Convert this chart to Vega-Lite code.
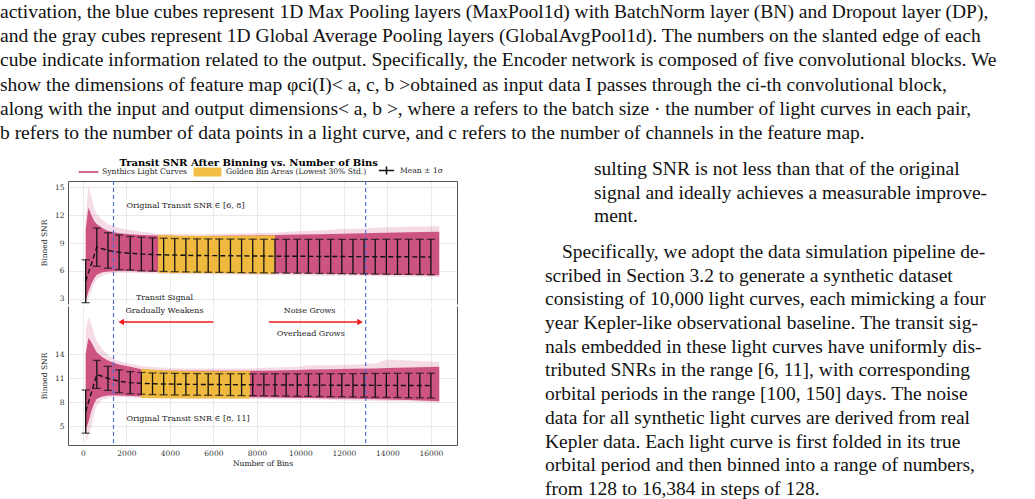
{
  "$schema": "https://vega.github.io/schema/vega-lite/v6.json",
  "padding": 0,
  "background": "white",
  "config": {
    "view": {"stroke": null},
    "font": "DejaVu Serif",
    "axis": {
      "labelFont": "DejaVu Serif", "labelFontSize": 7.5, "labelColor": "#333",
      "titleFont": "DejaVu Serif", "titleFontSize": 7.5, "titleFontWeight": "normal", "titleColor": "#222",
      "gridColor": "#e4e4e4", "gridWidth": 0.8, "domainColor": "#555", "domainWidth": 1,
      "ticks": false, "labelPadding": 4
    },
    "legend": {
      "labelFont": "DejaVu Serif", "labelFontSize": 7.6, "labelColor": "#222",
      "orient": "top", "direction": "horizontal", "padding": 0, "offset": 3,
      "layout": {"top": {"anchor": "middle", "direction": "horizontal", "margin": 14, "center": true}}
    }
  },
  "datasets": {
    "band_top": [
      {"bins": 128, "lo": 2.8, "hi": 10.5, "flo": 2.46, "fhi": 11.9},
      {"bins": 256, "lo": 3.8, "hi": 12.8, "flo": 3.0, "fhi": 15.1},
      {"bins": 384, "lo": 4.6, "hi": 12.0, "flo": 3.8, "fhi": 14.0},
      {"bins": 512, "lo": 5.2, "hi": 11.4, "flo": 4.6, "fhi": 12.8},
      {"bins": 640, "lo": 5.6, "hi": 11.0, "flo": 5.1, "fhi": 12.1},
      {"bins": 896, "lo": 5.85, "hi": 10.6, "flo": 5.5, "fhi": 11.5},
      {"bins": 1152, "lo": 5.95, "hi": 10.3, "flo": 5.7, "fhi": 11.0},
      {"bins": 1664, "lo": 6.0, "hi": 10.05, "flo": 5.8, "fhi": 10.6},
      {"bins": 2176, "lo": 6.0, "hi": 9.95, "flo": 5.8, "fhi": 10.4},
      {"bins": 2688, "lo": 5.95, "hi": 9.85, "flo": 5.75, "fhi": 10.2},
      {"bins": 3456, "lo": 5.9, "hi": 9.8, "flo": 5.7, "fhi": 10.0},
      {"bins": 4480, "lo": 5.85, "hi": 9.75, "flo": 5.65, "fhi": 9.95},
      {"bins": 5504, "lo": 5.85, "hi": 9.75, "flo": 5.65, "fhi": 9.95},
      {"bins": 6528, "lo": 5.82, "hi": 9.78, "flo": 5.62, "fhi": 10.0},
      {"bins": 7552, "lo": 5.8, "hi": 9.8, "flo": 5.6, "fhi": 10.05},
      {"bins": 8832, "lo": 5.78, "hi": 9.85, "flo": 5.58, "fhi": 10.1},
      {"bins": 9856, "lo": 5.75, "hi": 9.9, "flo": 5.55, "fhi": 10.25},
      {"bins": 10880, "lo": 5.7, "hi": 9.95, "flo": 5.5, "fhi": 10.35},
      {"bins": 11904, "lo": 5.68, "hi": 10.0, "flo": 5.48, "fhi": 10.5},
      {"bins": 12928, "lo": 5.65, "hi": 10.05, "flo": 5.45, "fhi": 10.55},
      {"bins": 13952, "lo": 5.6, "hi": 10.1, "flo": 5.4, "fhi": 10.7},
      {"bins": 14976, "lo": 5.58, "hi": 10.15, "flo": 5.38, "fhi": 10.75},
      {"bins": 16384, "lo": 5.55, "hi": 10.2, "flo": 5.35, "fhi": 10.8}
    ],
    "band_bot": [
      {"bins": 128, "lo": 4.5, "hi": 14.0, "flo": 3.0, "fhi": 17.0},
      {"bins": 256, "lo": 5.5, "hi": 16.0, "flo": 3.8, "fhi": 18.6},
      {"bins": 384, "lo": 6.8, "hi": 15.5, "flo": 5.0, "fhi": 17.8},
      {"bins": 512, "lo": 7.8, "hi": 14.8, "flo": 6.5, "fhi": 16.5},
      {"bins": 640, "lo": 8.4, "hi": 14.2, "flo": 7.6, "fhi": 15.6},
      {"bins": 896, "lo": 8.7, "hi": 13.6, "flo": 8.3, "fhi": 14.6},
      {"bins": 1152, "lo": 8.8, "hi": 13.2, "flo": 8.5, "fhi": 13.9},
      {"bins": 1408, "lo": 8.8, "hi": 12.9, "flo": 8.6, "fhi": 13.4},
      {"bins": 1664, "lo": 8.8, "hi": 12.7, "flo": 8.6, "fhi": 13.1},
      {"bins": 2176, "lo": 8.75, "hi": 12.4, "flo": 8.55, "fhi": 12.8},
      {"bins": 2688, "lo": 8.7, "hi": 12.1, "flo": 8.5, "fhi": 12.5},
      {"bins": 3456, "lo": 8.65, "hi": 11.95, "flo": 8.45, "fhi": 12.3},
      {"bins": 4480, "lo": 8.65, "hi": 11.9, "flo": 8.45, "fhi": 12.2},
      {"bins": 5504, "lo": 8.62, "hi": 11.9, "flo": 8.42, "fhi": 12.2},
      {"bins": 6528, "lo": 8.6, "hi": 11.9, "flo": 8.4, "fhi": 12.2},
      {"bins": 7680, "lo": 8.6, "hi": 11.9, "flo": 8.4, "fhi": 12.2},
      {"bins": 8832, "lo": 8.55, "hi": 11.95, "flo": 8.35, "fhi": 12.3},
      {"bins": 9856, "lo": 8.5, "hi": 12.0, "flo": 8.3, "fhi": 12.4},
      {"bins": 10368, "lo": 8.5, "hi": 12.05, "flo": 8.3, "fhi": 12.6},
      {"bins": 11392, "lo": 8.45, "hi": 12.1, "flo": 8.25, "fhi": 12.6},
      {"bins": 12416, "lo": 8.4, "hi": 12.15, "flo": 8.2, "fhi": 12.7},
      {"bins": 13440, "lo": 8.35, "hi": 12.2, "flo": 8.15, "fhi": 12.8},
      {"bins": 13952, "lo": 8.3, "hi": 12.25, "flo": 8.1, "fhi": 13.3},
      {"bins": 14976, "lo": 8.25, "hi": 12.3, "flo": 8.05, "fhi": 13.2},
      {"bins": 16384, "lo": 8.1, "hi": 12.4, "flo": 7.9, "fhi": 13.0}
    ],
    "gold_top": [
      {"bins": 3456, "glo": 5.8, "ghi": 9.85},
      {"bins": 4480, "glo": 5.78, "ghi": 9.78},
      {"bins": 6000, "glo": 5.75, "ghi": 9.75},
      {"bins": 7552, "glo": 5.72, "ghi": 9.78},
      {"bins": 8832, "glo": 5.7, "ghi": 9.82}
    ],
    "gold_bot": [
      {"bins": 2688, "glo": 8.5, "ghi": 12.15},
      {"bins": 3712, "glo": 8.48, "ghi": 11.95},
      {"bins": 5248, "glo": 8.45, "ghi": 11.85},
      {"bins": 6528, "glo": 8.45, "ghi": 11.85},
      {"bins": 7680, "glo": 8.45, "ghi": 11.9}
    ],
    "vlines": [{"bins": 1408}, {"bins": 13000}],
    "eb_top": [
      {"bins": 128, "mean": 4.9, "lo": 2.6, "hi": 7.2},
      {"bins": 640, "mean": 8.55, "lo": 6.5, "hi": 10.6},
      {"bins": 1152, "mean": 8.2, "lo": 6.3, "hi": 10.1},
      {"bins": 1664, "mean": 8.0, "lo": 6.15, "hi": 9.85},
      {"bins": 2176, "mean": 7.9, "lo": 6.1, "hi": 9.7},
      {"bins": 2688, "mean": 7.82, "lo": 6.02, "hi": 9.62},
      {"bins": 3200, "mean": 7.77, "lo": 5.99, "hi": 9.55},
      {"bins": 3712, "mean": 7.73, "lo": 5.95, "hi": 9.51},
      {"bins": 4224, "mean": 7.7, "lo": 5.92, "hi": 9.48},
      {"bins": 4736, "mean": 7.68, "lo": 5.9, "hi": 9.46},
      {"bins": 5248, "mean": 7.66, "lo": 5.88, "hi": 9.44},
      {"bins": 5760, "mean": 7.65, "lo": 5.86, "hi": 9.44},
      {"bins": 6272, "mean": 7.64, "lo": 5.85, "hi": 9.43},
      {"bins": 6784, "mean": 7.63, "lo": 5.84, "hi": 9.42},
      {"bins": 7296, "mean": 7.62, "lo": 5.82, "hi": 9.42},
      {"bins": 7808, "mean": 7.61, "lo": 5.81, "hi": 9.41},
      {"bins": 8320, "mean": 7.6, "lo": 5.8, "hi": 9.4},
      {"bins": 8832, "mean": 7.59, "lo": 5.78, "hi": 9.4},
      {"bins": 9344, "mean": 7.58, "lo": 5.77, "hi": 9.39},
      {"bins": 9856, "mean": 7.58, "lo": 5.76, "hi": 9.4},
      {"bins": 10368, "mean": 7.57, "lo": 5.75, "hi": 9.39},
      {"bins": 10880, "mean": 7.56, "lo": 5.73, "hi": 9.39},
      {"bins": 11392, "mean": 7.56, "lo": 5.73, "hi": 9.39},
      {"bins": 11904, "mean": 7.55, "lo": 5.71, "hi": 9.39},
      {"bins": 12416, "mean": 7.54, "lo": 5.69, "hi": 9.39},
      {"bins": 12928, "mean": 7.54, "lo": 5.69, "hi": 9.39},
      {"bins": 13440, "mean": 7.53, "lo": 5.67, "hi": 9.39},
      {"bins": 13952, "mean": 7.53, "lo": 5.66, "hi": 9.4},
      {"bins": 14464, "mean": 7.52, "lo": 5.64, "hi": 9.4},
      {"bins": 14976, "mean": 7.52, "lo": 5.64, "hi": 9.4},
      {"bins": 15488, "mean": 7.51, "lo": 5.62, "hi": 9.4},
      {"bins": 16000, "mean": 7.5, "lo": 5.6, "hi": 9.4}
    ],
    "eb_bot": [
      {"bins": 128, "mean": 6.8, "lo": 4.1, "hi": 9.5},
      {"bins": 640, "mean": 11.45, "lo": 9.7, "hi": 13.2},
      {"bins": 1152, "mean": 10.95, "lo": 9.45, "hi": 12.45},
      {"bins": 1664, "mean": 10.6, "lo": 9.18, "hi": 12.02},
      {"bins": 2176, "mean": 10.42, "lo": 9.04, "hi": 11.8},
      {"bins": 2688, "mean": 10.33, "lo": 8.97, "hi": 11.69},
      {"bins": 3200, "mean": 10.28, "lo": 8.93, "hi": 11.63},
      {"bins": 3712, "mean": 10.25, "lo": 8.9, "hi": 11.6},
      {"bins": 4224, "mean": 10.23, "lo": 8.88, "hi": 11.58},
      {"bins": 4736, "mean": 10.21, "lo": 8.86, "hi": 11.56},
      {"bins": 5248, "mean": 10.2, "lo": 8.85, "hi": 11.55},
      {"bins": 5760, "mean": 10.19, "lo": 8.84, "hi": 11.54},
      {"bins": 6272, "mean": 10.18, "lo": 8.83, "hi": 11.53},
      {"bins": 6784, "mean": 10.17, "lo": 8.81, "hi": 11.53},
      {"bins": 7296, "mean": 10.16, "lo": 8.8, "hi": 11.52},
      {"bins": 7808, "mean": 10.15, "lo": 8.79, "hi": 11.51},
      {"bins": 8320, "mean": 10.14, "lo": 8.77, "hi": 11.51},
      {"bins": 8832, "mean": 10.14, "lo": 8.76, "hi": 11.52},
      {"bins": 9344, "mean": 10.13, "lo": 8.74, "hi": 11.52},
      {"bins": 9856, "mean": 10.12, "lo": 8.72, "hi": 11.52},
      {"bins": 10368, "mean": 10.12, "lo": 8.71, "hi": 11.53},
      {"bins": 10880, "mean": 10.11, "lo": 8.69, "hi": 11.53},
      {"bins": 11392, "mean": 10.1, "lo": 8.67, "hi": 11.53},
      {"bins": 11904, "mean": 10.1, "lo": 8.66, "hi": 11.54},
      {"bins": 12416, "mean": 10.09, "lo": 8.64, "hi": 11.54},
      {"bins": 12928, "mean": 10.09, "lo": 8.62, "hi": 11.56},
      {"bins": 13440, "mean": 10.08, "lo": 8.6, "hi": 11.56},
      {"bins": 13952, "mean": 10.08, "lo": 8.58, "hi": 11.58},
      {"bins": 14464, "mean": 10.07, "lo": 8.56, "hi": 11.58},
      {"bins": 14976, "mean": 10.07, "lo": 8.54, "hi": 11.6},
      {"bins": 15488, "mean": 10.06, "lo": 8.52, "hi": 11.6},
      {"bins": 16000, "mean": 10.05, "lo": 8.5, "hi": 11.6}
    ],
    "right_text": [
      {"line": 1, "block": "item", "text": "sulting SNR is not less than that of the original"},
      {"line": 2, "block": "item", "text": "signal and ideally achieves a measurable improve-"},
      {"line": 3, "block": "item", "text": "ment."},
      {"line": 4.5, "block": "para", "text": "Specifically, we adopt the data simulation pipeline de-"},
      {"line": 5.5, "block": "body", "text": "scribed in Section 3.2 to generate a synthetic dataset"},
      {"line": 6.5, "block": "body", "text": "consisting of 10,000 light curves, each mimicking a four"},
      {"line": 7.5, "block": "body", "text": "year Kepler-like observational baseline. The transit sig-"},
      {"line": 8.5, "block": "body", "text": "nals embedded in these light curves have uniformly dis-"},
      {"line": 9.5, "block": "body", "text": "tributed SNRs in the range [6, 11], with corresponding"},
      {"line": 10.5, "block": "body", "text": "orbital periods in the range [100, 150] days. The noise"},
      {"line": 11.5, "block": "body", "text": "data for all synthetic light curves are derived from real"},
      {"line": 12.5, "block": "body", "text": "Kepler data. Each light curve is first folded in its true"},
      {"line": 13.5, "block": "body", "text": "orbital period and then binned into a range of numbers,"},
      {"line": 14.5, "block": "body", "text": "from 128 to 16,384 in steps of 128."}
    ]
  },
  "vconcat": [
    {
      "width": 1030,
      "height": 158,
      "data": {"values": [
        {"line": 1, "text": "activation, the blue cubes represent 1D Max Pooling layers (MaxPool1d) with BatchNorm layer (BN) and Dropout layer (DP),"},
        {"line": 2, "text": "and the gray cubes represent 1D Global Average Pooling layers (GlobalAvgPool1d). The numbers on the slanted edge of each"},
        {"line": 3, "text": "cube indicate information related to the output. Specifically, the Encoder network is composed of five convolutional blocks. We"},
        {"line": 4, "text": "show the dimensions of feature map φci(I)< a, c, b >obtained as input data I passes through the ci-th convolutional block,"},
        {"line": 5, "text": "along with the input and output dimensions< a, b >, where a refers to the batch size · the number of light curves in each pair,"},
        {"line": 6, "text": "b refers to the number of data points in a light curve, and c refers to the number of channels in the feature map."}
      ]},
      "mark": {"type": "text", "align": "left", "baseline": "alphabetic", "font": "Liberation Serif", "fontSize": 19.5, "color": "#111"},
      "encoding": {
        "x": {"datum": 0, "type": "quantitative", "scale": {"domain": [0, 1], "nice": false}, "axis": null},
        "y": {"field": "line", "type": "quantitative", "scale": {"domain": [0.2407, 6.7967], "reverse": true, "zero": false, "nice": false}, "axis": null},
        "text": {"field": "text"}
      }
    },
    {
      "hconcat": [
        {
          "hconcat": [
            {
              "width": 40,
              "height": 20,
              "data": {"values": [{"s": 0}]},
              "mark": {"type": "point", "opacity": 0},
              "encoding": {}
            },
            {
              "title": {"text": "Transit SNR After Binning vs. Number of Bins", "font": "DejaVu Serif", "fontSize": 10, "fontWeight": "bold", "color": "#000", "anchor": "middle", "offset": -3},
              "spacing": 0,
              "align": "none",
              "resolve": {"scale": {"color": "independent", "fill": "independent", "stroke": "independent", "shape": "independent"}},
              "vconcat": [
                {
                  "width": 389,
                  "height": 123,
                  "resolve": {"axis": {"x": "independent", "y": "independent"}},
                  "layer": [
                    {
                      "data": {"name": "band_top"},
                      "mark": {"type": "area", "color": "#d35a8a", "opacity": 0.22},
                      "encoding": {
                        "x": {"field": "bins", "type": "quantitative", "scale": {"domain": [-685, 17200], "nice": false, "zero": false},
                              "axis": {"orient": "top", "labels": false, "domain": true, "grid": true, "title": null, "values": [0, 2000, 4000, 6000, 8000, 10000, 12000, 14000, 16000]}},
                        "y": {"field": "flo", "type": "quantitative", "scale": {"domain": [2.458, 15.65], "nice": false, "zero": false},
                              "axis": {"orient": "left", "values": [3, 6, 9, 12, 15], "title": "Binned SNR", "grid": true, "titlePadding": 6}},
                        "y2": {"field": "fhi"}
                      }
                    },
                    {
                      "data": {"name": "band_top"},
                      "mark": {"type": "area", "opacity": 0.92},
                      "encoding": {
                        "x": {"field": "bins", "type": "quantitative", "axis": null},
                        "y": {"field": "lo", "type": "quantitative", "axis": {"orient": "right", "labels": false, "grid": false, "title": null, "domain": true}},
                        "y2": {"field": "hi"},
                        "color": {"datum": "Synthics Light Curves", "scale": {"range": ["#c9487a"]}, "legend": {"title": null, "symbolType": "M-2.2,-0.2H2.2V0.2H-2.2Z", "symbolSize": 81, "labelOffset": 8}}
                      }
                    },
                    {
                      "data": {"name": "gold_top"},
                      "mark": {"type": "area", "opacity": 0.97},
                      "encoding": {
                        "x": {"field": "bins", "type": "quantitative", "axis": null},
                        "y": {"field": "glo", "type": "quantitative", "axis": null},
                        "y2": {"field": "ghi"},
                        "fill": {"datum": "Golden Bin Areas (Lowest 30% Std.)", "scale": {"range": ["#f0bd3e"]}, "legend": {"title": null, "symbolType": "M-3.1,-1H3.1V1H-3.1Z", "symbolSize": 81, "labelOffset": 13}}
                      }
                    },
                    {
                      "data": {"name": "vlines"},
                      "mark": {"type": "rule", "color": "#5470d8", "strokeDash": [4, 3], "strokeWidth": 1.2},
                      "encoding": {"x": {"field": "bins", "type": "quantitative", "axis": null}}
                    },
                    {
                      "data": {"name": "eb_top"},
                      "mark": {"type": "line", "color": "#111", "strokeDash": [5, 3], "strokeWidth": 1.4},
                      "encoding": {
                        "x": {"field": "bins", "type": "quantitative", "axis": null},
                        "y": {"field": "mean", "type": "quantitative", "axis": null}
                      }
                    },
                    {
                      "data": {"name": "eb_top"},
                      "mark": {"type": "rule", "strokeWidth": 1.3},
                      "encoding": {
                        "x": {"field": "bins", "type": "quantitative", "axis": null},
                        "y": {"field": "lo", "type": "quantitative", "axis": null},
                        "y2": {"field": "hi"},
                        "stroke": {"datum": "Mean ± 1σ", "scale": {"range": ["#111"]}, "legend": {"title": null, "symbolType": "M-1.7,0H1.7M0,-0.9V0.9", "symbolSize": 81, "symbolStrokeWidth": 1.6, "labelOffset": 8}}
                      }
                    },
                    {
                      "data": {"name": "eb_top"},
                      "mark": {"type": "tick", "orient": "horizontal", "color": "#111", "size": 8, "thickness": 1.3},
                      "encoding": {
                        "x": {"field": "bins", "type": "quantitative", "axis": null},
                        "y": {"field": "lo", "type": "quantitative", "axis": null}
                      }
                    },
                    {
                      "data": {"name": "eb_top"},
                      "mark": {"type": "tick", "orient": "horizontal", "color": "#111", "size": 8, "thickness": 1.3},
                      "encoding": {
                        "x": {"field": "bins", "type": "quantitative", "axis": null},
                        "y": {"field": "hi", "type": "quantitative", "axis": null}
                      }
                    },
                    {
                      "data": {"values": [{"bins": 2000, "snr": 13.0, "note": "Original Transit SNR ∈ [6, 8]"}]},
                      "mark": {"type": "text", "align": "left", "baseline": "middle", "font": "DejaVu Serif", "fontSize": 8, "color": "#222"},
                      "encoding": {
                        "x": {"field": "bins", "type": "quantitative", "axis": null},
                        "y": {"field": "snr", "type": "quantitative", "axis": null},
                        "text": {"field": "note"}
                      }
                    },
                    {
                      "data": {"values": [{"bins": 3750, "snr": 3.15, "note": "Transit Signal"}]},
                      "mark": {"type": "text", "align": "center", "baseline": "middle", "font": "DejaVu Serif", "fontSize": 8, "color": "#222"},
                      "encoding": {
                        "x": {"field": "bins", "type": "quantitative", "axis": null},
                        "y": {"field": "snr", "type": "quantitative", "axis": null},
                        "text": {"field": "note"}
                      }
                    }
                  ]
                },
                {
                  "width": 389,
                  "height": 139,
                  "resolve": {"axis": {"x": "independent", "y": "independent"}},
                  "layer": [
                    {
                      "data": {"name": "band_bot"},
                      "mark": {"type": "area", "color": "#d35a8a", "opacity": 0.22},
                      "encoding": {
                        "x": {"field": "bins", "type": "quantitative", "scale": {"domain": [-685, 17200], "nice": false, "zero": false},
                              "axis": {"orient": "bottom", "format": "d", "grid": true, "title": "Number of Bins", "titlePadding": 3, "values": [0, 2000, 4000, 6000, 8000, 10000, 12000, 14000, 16000]}},
                        "y": {"field": "flo", "type": "quantitative", "scale": {"domain": [2.625, 20.0], "nice": false, "zero": false},
                              "axis": {"orient": "left", "values": [5, 8, 11, 14], "title": "Binned SNR", "grid": true, "titlePadding": 6}},
                        "y2": {"field": "fhi"}
                      }
                    },
                    {
                      "data": {"name": "band_bot"},
                      "mark": {"type": "area", "color": "#c9487a", "opacity": 0.92},
                      "encoding": {
                        "x": {"field": "bins", "type": "quantitative", "axis": null},
                        "y": {"field": "lo", "type": "quantitative", "axis": {"orient": "right", "labels": false, "grid": false, "title": null, "domain": true}},
                        "y2": {"field": "hi"}
                      }
                    },
                    {
                      "data": {"name": "gold_bot"},
                      "mark": {"type": "area", "color": "#f0bd3e", "opacity": 0.97},
                      "encoding": {
                        "x": {"field": "bins", "type": "quantitative", "axis": null},
                        "y": {"field": "glo", "type": "quantitative", "axis": null},
                        "y2": {"field": "ghi"}
                      }
                    },
                    {
                      "data": {"name": "vlines"},
                      "mark": {"type": "rule", "color": "#5470d8", "strokeDash": [4, 3], "strokeWidth": 1.2},
                      "encoding": {"x": {"field": "bins", "type": "quantitative", "axis": null}}
                    },
                    {
                      "data": {"name": "eb_bot"},
                      "mark": {"type": "line", "color": "#111", "strokeDash": [5, 3], "strokeWidth": 1.4},
                      "encoding": {
                        "x": {"field": "bins", "type": "quantitative", "axis": null},
                        "y": {"field": "mean", "type": "quantitative", "axis": null}
                      }
                    },
                    {
                      "data": {"name": "eb_bot"},
                      "mark": {"type": "rule", "color": "#111", "strokeWidth": 1.3},
                      "encoding": {
                        "x": {"field": "bins", "type": "quantitative", "axis": null},
                        "y": {"field": "lo", "type": "quantitative", "axis": null},
                        "y2": {"field": "hi"}
                      }
                    },
                    {
                      "data": {"name": "eb_bot"},
                      "mark": {"type": "tick", "orient": "horizontal", "color": "#111", "size": 8, "thickness": 1.3},
                      "encoding": {
                        "x": {"field": "bins", "type": "quantitative", "axis": null},
                        "y": {"field": "lo", "type": "quantitative", "axis": null}
                      }
                    },
                    {
                      "data": {"name": "eb_bot"},
                      "mark": {"type": "tick", "orient": "horizontal", "color": "#111", "size": 8, "thickness": 1.3},
                      "encoding": {
                        "x": {"field": "bins", "type": "quantitative", "axis": null},
                        "y": {"field": "hi", "type": "quantitative", "axis": null}
                      }
                    },
                    {
                      "data": {"values": [
                        {"start": 6000, "end": 1760, "snr": 18.0, "dir": "left"},
                        {"start": 8550, "end": 12740, "snr": 18.0, "dir": "right"}
                      ]},
                      "mark": {"type": "rule", "color": "#ee1c1c", "strokeWidth": 1.6},
                      "encoding": {
                        "x": {"field": "start", "type": "quantitative", "axis": null},
                        "x2": {"field": "end"},
                        "y": {"field": "snr", "type": "quantitative", "axis": null}
                      }
                    },
                    {
                      "data": {"values": [
                        {"start": 6000, "end": 1760, "snr": 18.0, "dir": "left"},
                        {"start": 8550, "end": 12740, "snr": 18.0, "dir": "right"}
                      ]},
                      "mark": {"type": "point", "filled": true, "color": "#ee1c1c", "size": 40, "opacity": 1},
                      "encoding": {
                        "x": {"field": "end", "type": "quantitative", "axis": null},
                        "y": {"field": "snr", "type": "quantitative", "axis": null},
                        "shape": {"field": "dir", "type": "nominal", "scale": {"domain": ["left", "right"], "range": ["triangle-left", "triangle-right"]}, "legend": null}
                      }
                    },
                    {
                      "data": {"values": [{"bins": 2000, "snr": 5.9, "note": "Original Transit SNR ∈ [8, 11]"}]},
                      "mark": {"type": "text", "align": "left", "baseline": "middle", "font": "DejaVu Serif", "fontSize": 8, "color": "#222"},
                      "encoding": {
                        "x": {"field": "bins", "type": "quantitative", "axis": null},
                        "y": {"field": "snr", "type": "quantitative", "axis": null},
                        "text": {"field": "note"}
                      }
                    },
                    {
                      "data": {"values": [
                        {"bins": 3750, "snr": 19.35, "note": "Gradually Weakens"},
                        {"bins": 10420, "snr": 19.4, "note": "Noise Grows"},
                        {"bins": 10480, "snr": 16.5, "note": "Overhead Grows"}
                      ]},
                      "mark": {"type": "text", "align": "center", "baseline": "middle", "font": "DejaVu Serif", "fontSize": 8, "color": "#222"},
                      "encoding": {
                        "x": {"field": "bins", "type": "quantitative", "axis": null},
                        "y": {"field": "snr", "type": "quantitative", "axis": null},
                        "text": {"field": "note"}
                      }
                    }
                  ]
                }
              ]
            }
          ],
          "spacing": 0,
          "align": "none"
        },
        {
          "width": 485,
          "height": 310,
          "data": {"name": "right_text"},
          "encoding": {
            "x": {"datum": 0, "type": "quantitative", "scale": {"domain": [0, 1], "nice": false}, "axis": null},
            "y": {"field": "line", "type": "quantitative", "scale": {"domain": [1.2532, 14.3333], "reverse": true, "zero": false, "nice": false}, "axis": null},
            "text": {"field": "text"}
          },
          "layer": [
            {
              "transform": [{"filter": "datum.block === 'item'"}],
              "mark": {"type": "text", "align": "left", "baseline": "alphabetic", "font": "Liberation Serif", "fontSize": 19.5, "color": "#111", "dx": 49}
            },
            {
              "transform": [{"filter": "datum.block === 'para'"}],
              "mark": {"type": "text", "align": "left", "baseline": "alphabetic", "font": "Liberation Serif", "fontSize": 19.5, "color": "#111", "dx": 17}
            },
            {
              "transform": [{"filter": "datum.block === 'body'"}],
              "mark": {"type": "text", "align": "left", "baseline": "alphabetic", "font": "Liberation Serif", "fontSize": 19.5, "color": "#111"}
            }
          ]
        }
      ],
      "spacing": 88,
      "align": "none"
    }
  ],
  "spacing": 0,
  "align": "none"
}
